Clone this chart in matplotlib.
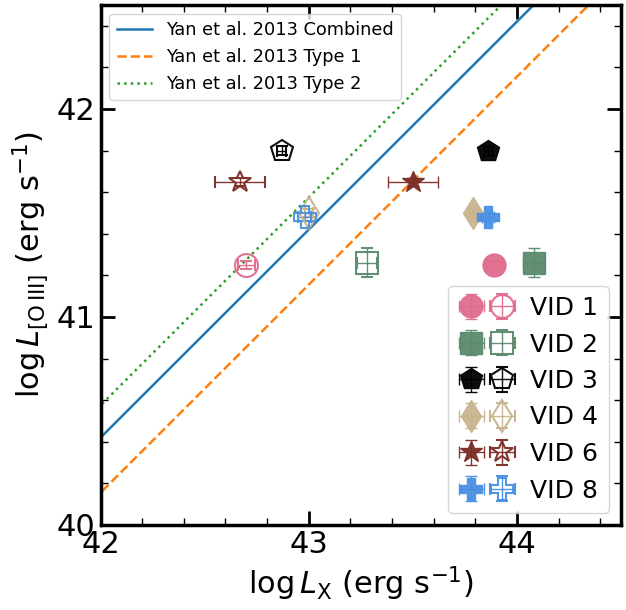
import numpy as np
import matplotlib
matplotlib.use("Agg")
import matplotlib.pyplot as plt
from matplotlib.legend_handler import HandlerTuple

# Source properties
names = ["VID 1", "VID 2", "VID 3", "VID 4", "VID 6", "VID 8"]
markers = ["o", "s", "p", "d", "*", "P"]
colors = ["#E06C8C", "#5B8A6E", "#000000", "#C9B48F", "#7B2D26", "#4A90E2"]

log_lx_filled = [43.89, 44.08, 43.86, 43.79, 43.50, 43.86]
log_lx_open = [42.70, 43.28, 42.87, 43.00, 42.67, 42.98]
log_loiii = [41.25, 41.26, 41.80, 41.50, 41.65, 41.48]
lx_err = [0.04, 0.05, 0.02, 0.02, 0.12, 0.03]
loiii_err = [0.02, 0.07, 0.02, 0.02, 0.02, 0.02]

# Yan et al. 2013 relations: log L[OIII] = slope * log LX + offset
rel_labels = ["Yan et al. 2013 Combined", "Yan et al. 2013 Type 1", "Yan et al. 2013 Type 2"]
rel_slope = [1.0, 1.0, 1.0]
rel_offset = [-1.58, -1.845, -1.425]
rel_styles = ["-", "--", ":"]
rel_colors = ["C0", "C1", "C2"]

fig = plt.figure(figsize=(6.26, 6.10), dpi=100)
ax = fig.add_axes([100.5 / 626, 85 / 610, 520.5 / 626, 520 / 610])

xgrid = np.linspace(41.5, 45.0, 200)
line_handles = []
for lab, m, b, ls, c in zip(rel_labels, rel_slope, rel_offset, rel_styles, rel_colors):
    h, = ax.plot(xgrid, m * xgrid + b, ls=ls, color=c, lw=1.8, label=lab)
    line_handles.append(h)

ms = 16.5
pt_handles = []
for i in range(len(names)):
    ekw = dict(elinewidth=1.0, capsize=4, capthick=1.0, ecolor=colors[i])
    hf = ax.errorbar(log_lx_filled[i], log_loiii[i], xerr=lx_err[i], yerr=loiii_err[i],
                     marker=markers[i], ms=ms, color=colors[i], mec=colors[i],
                     mfc=colors[i], ls="none", alpha=0.95, **ekw)
    ho = ax.errorbar(log_lx_open[i], log_loiii[i], xerr=lx_err[i], yerr=loiii_err[i],
                     marker=markers[i], ms=ms, color=colors[i], mec=colors[i],
                     mfc="none", mew=1.5, ls="none", alpha=0.95, **ekw)
    pt_handles.append((hf, ho))

ax.set_xlim(42, 44.5)
ax.set_ylim(40, 42.5)
ax.set_xticks([42, 43, 44])
ax.set_yticks([40, 41, 42])
ax.minorticks_on()
ax.tick_params(which="both", direction="in", top=True, right=True)
ax.tick_params(which="major", length=10, width=2, labelsize=22)
ax.tick_params(which="minor", length=5, width=1)
for sp in ax.spines.values():
    sp.set_linewidth(2.5)

ax.set_xlabel(r"$\log L_{\rm X}$ (erg s$^{-1}$)", fontsize=22)
ax.set_ylabel(r"$\log L_{\rm [O\,III]}$ (erg s$^{-1}$)", fontsize=22)

leg1 = ax.legend(handles=line_handles, loc="upper left", fontsize=12.8)
ax.add_artist(leg1)
ax.legend(pt_handles, names, loc="lower right", fontsize=18,
          handler_map={tuple: HandlerTuple(ndivide=None, pad=0.15)},
          handlelength=2.3, labelspacing=0.5, handletextpad=0.6)

fig.savefig("out.png", dpi=100)
